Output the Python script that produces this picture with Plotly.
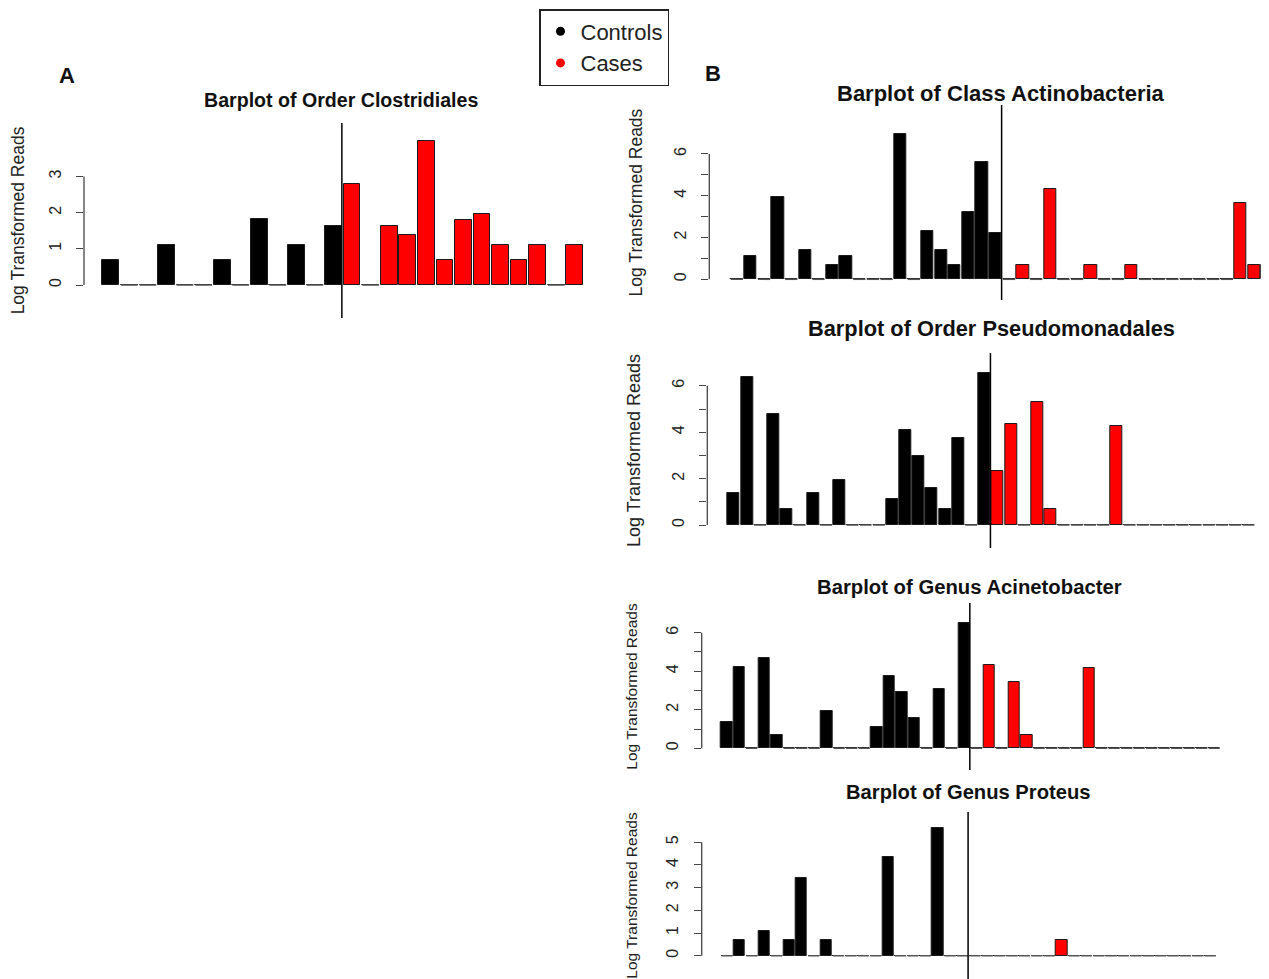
import plotly.graph_objects as go

# reference canvas size; the page body adds an 8px margin, so the figure is
# drawn 8px smaller and every reference pixel position is shifted by 8px
REF_W, REF_H = 1269, 979
OFF = 8
FIG_W, FIG_H = REF_W - OFF, REF_H - OFF
FONT = "Liberation Sans, Arial, sans-serif"

# ---------------- data (log transformed reads per sample) ----------------
clostridiales_controls = [0.69, 0, 0, 1.10, 0, 0, 0.69, 0, 1.81, 0, 1.10, 0, 1.64]
clostridiales_cases = [2.80, 0, 1.64, 1.39, 3.97, 0.69, 1.80, 1.96, 1.10, 0.69, 1.10, 0, 1.10]

actinobacteria_controls = [0, 1.12, 0, 3.96, 0, 1.39, 0, 0.70, 1.12, 0, 0, 0, 6.94, 0,
                           2.33, 1.39, 0.70, 3.21, 5.63, 2.22]
actinobacteria_cases = [0, 0.70, 0, 4.31, 0, 0, 0.70, 0, 0, 0.70, 0, 0, 0, 0, 0, 0, 0,
                        3.67, 0.70, 0.70]

pseudomonadales_controls = [1.39, 6.36, 0, 4.77, 0.71, 0, 1.39, 0, 1.95, 0, 0, 0, 1.11,
                            4.08, 2.97, 1.61, 0.71, 3.77, 0, 6.56]
pseudomonadales_cases = [2.34, 4.36, 0, 5.30, 0.71, 0, 0, 0, 0, 4.26, 0, 0, 0, 0, 0, 0,
                         0, 0, 0, 0]

acinetobacter_controls = [1.38, 4.24, 0, 4.67, 0.71, 0, 0, 0, 1.92, 0, 0, 0, 1.09, 3.75,
                          2.91, 1.59, 0, 3.06, 0, 6.52]
acinetobacter_cases = [0, 4.32, 0, 3.43, 0.71, 0, 0, 0, 0, 4.19, 0, 0, 0, 0, 0, 0, 0, 0,
                       0, 0]

proteus_controls = [0, 0.69, 0, 1.10, 0, 0.69, 3.44, 0, 0.69, 0, 0, 0, 0, 4.34, 0, 0, 0,
                    5.62, 0, 0]
proteus_cases = [0, 0, 0, 0, 0, 0, 0, 0.69, 0, 0, 0, 0, 0, 0, 0, 0, 0, 0, 0, 0]

titles = ["Barplot of Order Clostridiales", "Barplot of Class Actinobacteria",
          "Barplot of Order Pseudomonadales", "Barplot of Genus Acinetobacter",
          "Barplot of Genus Proteus"]
y_ticks = [[0, 1, 2, 3], [0, 1, 2, 3, 4, 5, 6], [0, 1, 2, 3, 4, 5, 6],
           [0, 1, 2, 3, 4, 5, 6], [0, 1, 2, 3, 4, 5]]
y_ticklabels = [["0", "1", "2", "3"], ["0", "", "2", "", "4", "", "6"],
                ["0", "", "2", "", "4", "", "6"], ["0", "", "2", "", "4", "", "6"],
                ["0", "1", "2", "3", "4", "5"]]
y_title = "Log Transformed Reads"
group_names = ["Controls", "Cases"]
group_colors = ["#000000", "#FF0000"]

series = [
    (clostridiales_controls, clostridiales_cases),
    (actinobacteria_controls, actinobacteria_cases),
    (pseudomonadales_controls, pseudomonadales_cases),
    (acinetobacter_controls, acinetobacter_cases),
    (proteus_controls, proteus_cases),
]

# ---------------- layout geometry (pixels in the 1269x979 reference) ----------------
geom = [
    dict(l=84, r=600, t=123, b=318, zero=285, unit=36.2, slot1=110.8, slot=18.56),
    dict(l=709.3, r=1269, t=105, b=300, zero=279.3, unit=20.9, slot1=736.9, slot=13.61),
    dict(l=707.3, r=1269, t=353, b=548, zero=525, unit=23.2, slot1=733.7, slot=13.2),
    dict(l=701.7, r=1269, t=603, b=770, zero=748.3, unit=19.27, slot1=726.7, slot=12.5),
    dict(l=701.7, r=1269, t=812, b=979, zero=955.7, unit=22.7, slot1=727.1, slot=12.39),
]
title_pos = [(341, 100, 19.6), (1001, 93, 22), (991, 328, 21.8), (969.5, 587, 20.3),
             (968, 792, 20.2)]
ytitle_size = [17.5, 17.5, 18, 15.5, 15.5]
ytitle_standoff = [19, 24, 24, 22, 22]

BAR_W = 0.9


def px_x(p):
    return (p - OFF) / FIG_W


def px_y(p):
    return 1 - (p - OFF) / FIG_H


fig = go.Figure()
shapes = []
annotations = []
layout_axes = {}

for i, ((ctrl, case), g) in enumerate(zip(series, geom)):
    n = i + 1
    xr = "x" if n == 1 else f"x{n}"
    yr = "y" if n == 1 else f"y{n}"
    xa = "xaxis" if n == 1 else f"xaxis{n}"
    ya = "yaxis" if n == 1 else f"yaxis{n}"

    values = list(ctrl) + list(case)
    nc = len(ctrl)
    positions = list(range(1, len(values) + 1))

    for gi, (vals, pos) in enumerate([(ctrl, positions[:nc]), (case, positions[nc:])]):
        fig.add_trace(go.Bar(
            x=pos, y=vals, width=BAR_W,
            marker=dict(color=group_colors[gi], line=dict(color="#1a1a1a", width=1)),
            xaxis=xr, yaxis=yr, showlegend=False, hoverinfo="skip",
        ))

    # zero-valued bars drawn as flat outlines (as in base R barplot)
    zx, zy = [], []
    for p, v in zip(positions, values):
        if v == 0:
            zx += [p - BAR_W / 2, p + BAR_W / 2, None]
            zy += [0, 0, None]
    fig.add_trace(go.Scatter(x=zx, y=zy, mode="lines",
                             line=dict(color="#555555", width=1.5),
                             xaxis=xr, yaxis=yr, showlegend=False, hoverinfo="skip"))

    x_lo = 1 + (g["l"] - g["slot1"]) / g["slot"]
    x_hi = 1 + (g["r"] - g["slot1"]) / g["slot"]
    y_lo = (g["zero"] - g["b"]) / g["unit"]
    y_hi = (g["zero"] - g["t"]) / g["unit"]

    layout_axes[xa] = dict(domain=[px_x(g["l"]), min(1, px_x(g["r"]))], range=[x_lo, x_hi],
                           visible=False, anchor=yr, fixedrange=True)
    layout_axes[ya] = dict(
        domain=[max(0, px_y(g["b"])), px_y(g["t"])], range=[y_lo, y_hi], anchor=xr,
        showgrid=False, zeroline=False, showline=False,
        tickmode="array", tickvals=y_ticks[i], ticktext=y_ticklabels[i],
        ticks="outside", ticklen=7, tickwidth=1.3, tickcolor="#444444",
        tickangle=-90, ticklabelstandoff=9,
        tickfont=dict(family=FONT, size=16, color="#222222"),
        title=dict(text=y_title, font=dict(family=FONT, size=ytitle_size[i], color="#222222"),
                   standoff=ytitle_standoff[i]),
        fixedrange=True,
    )

    # R-style axis line spanning first to last tick only
    shapes.append(dict(type="line", xref=f"{xr} domain", x0=0, x1=0, yref=yr,
                       y0=y_ticks[i][0], y1=y_ticks[i][-1],
                       line=dict(color="#444444", width=1.3)))
    # separator between controls and cases
    shapes.append(dict(type="line", xref=xr, x0=nc + BAR_W / 2, x1=nc + BAR_W / 2,
                       yref=f"{yr} domain", y0=0, y1=1,
                       line=dict(color="#000000", width=1.5)))

    tx, ty, ts = title_pos[i]
    annotations.append(dict(text=f"<b>{titles[i]}</b>", xref="paper", yref="paper",
                            x=px_x(tx), y=px_y(ty), xanchor="center", yanchor="middle",
                            showarrow=False, font=dict(family=FONT, size=ts, color="#111111")))

# panel letters
annotations.append(dict(text="<b>A</b>", xref="paper", yref="paper", x=px_x(67), y=px_y(75),
                        xanchor="center", yanchor="middle", showarrow=False,
                        font=dict(family=FONT, size=22, color="#111111")))
annotations.append(dict(text="<b>B</b>", xref="paper", yref="paper", x=px_x(713), y=px_y(73),
                        xanchor="center", yanchor="middle", showarrow=False,
                        font=dict(family=FONT, size=22, color="#111111")))

# legend entries
for name, col in zip(group_names, group_colors):
    fig.add_trace(go.Scatter(x=[None], y=[None], mode="markers", name=name,
                             marker=dict(color=col, size=9, symbol="circle"),
                             xaxis="x", yaxis="y", showlegend=True))

fig.update_layout(
    width=FIG_W, height=FIG_H,
    margin=dict(l=0, r=0, t=0, b=0),
    paper_bgcolor="white", plot_bgcolor="white",
    font=dict(family=FONT, color="#222222"),
    shapes=shapes, annotations=annotations,
    showlegend=True,
    legend=dict(x=px_x(539), y=px_y(9), xanchor="left", yanchor="top",
                bordercolor="#222222", borderwidth=1.5, bgcolor="white",
                font=dict(family=FONT, size=22, color="#222222"),
                itemsizing="trace", tracegroupgap=0),
    bargap=0,
    **layout_axes,
)

fig.write_html("out.html")
